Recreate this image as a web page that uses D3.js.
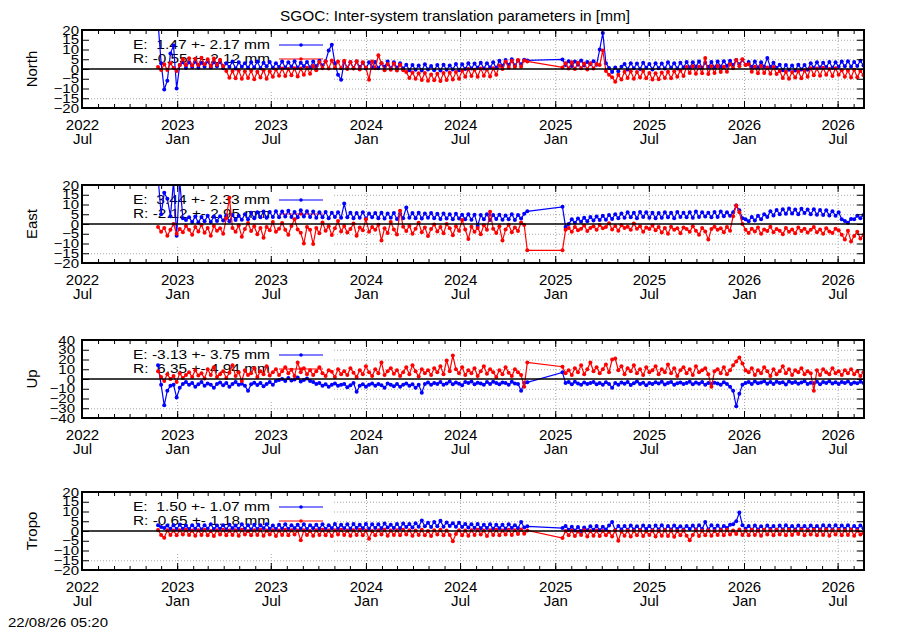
<!DOCTYPE html>
<html><head><meta charset="utf-8">
<script src="https://cdn.jsdelivr.net/npm/d3@7"></script>
<style>body{margin:0;background:#fff} svg{display:block} text{font-family:"Liberation Sans",Arial,Helvetica,sans-serif}</style>
</head><body><svg id="c" width="900" height="630"></svg>
<script>
const title = "SGOC: Inter-system translation parameters in [mm]";
const stamp = "22/08/26 05:20";
const panelNames = ["North","East","Up","Tropo"];
const yMax = [20,20,40,20];
const yStep = [5,5,10,5];
const legendE = ["E:  1.47 +- 2.17 mm","E:  3.44 +- 2.33 mm","E: -3.13 +- 3.75 mm","E:  1.50 +- 1.07 mm"];
const legendR = ["R: -0.55 +- 2.12 mm","R: -2.12 +- 2.95 mm","R:  6.35 +- 4.94 mm","R: -0.65 +- 1.18 mm"];
const xDomain = ["2022-07-01","2026-08-21"];
const segStarts = ["2022-11-25","2025-01-15"];
const segLengths = [120, 98];
const stepDays = 6;

const northE = [24,3,-10.5,-6,8,12,-10,2,3.5,0.5, 3.5,1,3.8,0.6,3.2,1.2,4,0.8,3.4,1.4, 3.6,0.4,3,1,3.8,0.2,3.4,1.2,3,0.6, 3.4,0.8,3.8,0.4,3.2,1.4,3.6,0.6,3,1, 3.8,0.8,3.4,1.2,4,0.6,3.2,1.4,3.6,0.8, 3.8,1.4,4.2,1.8,4,9.5,12.5,3,-3,-5.5, 3.6,0.6,3.4,0.4,3.8,1,3.2,0.2,3.4,0.8, 3.6,0.4,3,1.2,3.8,0.2,3.4,0.6,3,0.2, 2.2,-0.6,2,-0.4,1.8,-0.8,2.4,-0.2,1.6,-0.6, 2,-0.8,2.2,-0.4,1.8,-0.2,2.6,-0.6,2.4,0, 3,0.2,2.8,0.6,3.2,0.2,3,0.8,3.4,0.6, 4.2,1.6,4.6,2,5,1.8,4.4,2.4,4.8,4.4,
 4.9,2,4,1.6,3.8,2.2,4.4,1.8,3.6,2.4, 4,2.2,10,18.5,3,0.5,-1.5,0.8,-1.2,1.2, 2.6,-0.2,3,0.4,2.8,0,3.2,0.6,2.6,-0.2, 3,0.4,2.8,0.2,3.4,0.6,3,0.2,3.2,0.8, 3.6,0.8,3.4,1.2,3.8,0.6,3.2,1,3.6,0.8, 3.8,1.2,4,1.6,4.2,2,4.6,2.4,4.8,2.2, 3.6,1,3.8,0.8,3.4,1.2,5.6,1,3.2,0.6, 2.2,-0.6,2,-0.4,1.8,-0.8,2.2,-0.2,2,-0.4, 3,0.6,3.4,0.8,3.2,1,3.6,0.6,3.4,1.2, 3.8,1.4,4,1.2,3.6,1.6,4.2,1.8];
const northR = [1,-0.5,2.5,-0.5,3,0.5,-1,2,5,2, 5.5,1.8,5.2,2,5.8,2.4,5,1.6,5.4,2.2, 4.8,1.5,-1,-4.5,-1,-4.8,-0.6,-5,-1.2,-4.6, -0.8,-5.2,-1.4,-4.4,-0.6,-5,-1.2,-4,-0.2,-3.4, 0.2,-3.6,0,-3.2,0.4,-3.8,0.2,-3,0.6,-2.4, 1.6,-0.6,3.6,0.4,4,0.2,4.4,0.6,3.8,0.4, 4.2,0,3.6,0.2,4,-0.2,3.4,0.6,-5.5,3.8, 0.4,7,3,-0.6,2.6,-0.4,2.8,-0.8,2.2,-0.6, -1.6,-4.6,-1.8,-5,-2.2,-5.6,-2,-6,-2.8,-5.8, -2.4,-6.2,-2,-5.6,-1.8,-5.4,-1.6,-5,-0.8,-4, 0,-3.6,-0.4,-4,0.2,-3.4,-0.2,-3.8,0.4,-3, 1.8,0,3.8,0.6,4.2,1,4.6,1.2,4.4,3.9,
 0.8,3,0.2,3.4,0,3.2,0.4,2.8,-0.2,3, 0.2,2.6,2,9.5,-1,-3,-4.2,-6.5,-3,-5.4, -1.4,-4.6,-1.2,-5,-1.6,-4.4,-1,-4.8,-2,-5.4, -2.2,-5.2,-1.8,-4.6,-1.4,-4.8,-1.2,-4,-0.8,-3.6, 1,-2,1.4,-2.4,1.2,-2.2,5.6,-2.6,1.4,-2, 1.6,-1.6,1.2,-1.4,2.4,0.4,4.6,1.4,5,2, 2.4,-1.4,1.2,-2.2,1.6,-2,0.8,-2.4,1,-2.6, -1,-4.6,-1.4,-5,-1.6,-4.4,-1.2,-4.8,-0.8,-4, 0.4,-3.2,0.2,-3.4,0.6,-3,0,-3.6,0.4,-3, -0.6,-4,-0.8,-4.4,-0.4,-4.2,-1,-3.2];
const eastE = [24,5,16,13,4,22,-6,22,3,2, 3.5,1,3.8,0.8,3.6,1.4,4.2,1,3.8,1.6, 4,1.8,4.4,1.4,4.6,2,4.2,2.2,5,2.4, 5.8,3,6,3.4,6.4,3.2,6.2,3.6,6.6,3.4, 6.4,3.8,6.8,3.6,6.2,3.4,7,3.8,6.6,3.6, 6.4,3.2,6,3.4,6.2,3,5.8,3.6,6,3.2, 10.5,3.4,5.8,3,5.6,3.2,6,2.8,5.4,3.4, 5.6,3,5.8,2.8,5.4,3.2,5.6,2.6,5.2,3, 8.5,3.2,5.6,3,5.8,2.8,5.4,3.2,5.6,3, 5.2,2.6,5.4,2.8,5,2.4,5.2,2.8,4.8,2.4, 5,2.2,4.8,-1,4.6,2.4,5,2,4.6,2.6, 4.8,2.2,4.4,2.4,5,2,4.6,2.8,5.2,6.5,
 8.8,-1.5,0,2.4,0.6,2.8,1.2,3.2,1.4,3.6, 1.8,3.8,2,4.2,2.2,4.6,2.6,5,3,5.4, 3.2,6,3.4,5.8,3,6.2,3.6,6,3.2,5.8, 3,5.6,3.2,6,3.4,5.8,3,6.2,3.6,5.8, 3.4,6,3.2,6.4,3.6,6,3.8,5.8,3.4,6.2, 3.6,6.4,4,6,4.2,6,9.5,7,3,2.4, 1.4,3.6,1.8,4.2,2.4,5,3.6,6.6,4.4,7.2, 5,7.6,5.2,8,5.4,7.4,5,7.8,5.6,7.4, 5,7.6,4.8,7.2,4.6,7,4.4,6.6,4.2,6, 2.4,1.5,0.6,2.6,2.4,4.2,3,4.6];
const eastR = [-1.5,-4,-2,-6,-3,0,-5,-2.5,-4.2,-1, -3,-5.5,-1.5,-3.8,-0.5,-4.5,-2,-6,-1,-3.5, -2.2,-5,3,13.5,-2,-4,-0.8,-6.5,-2.5,0.5, -3.6,-1.2,-5.2,-2,-7,-1.5,-3.2,1,-4,-2.4, 0.5,-3,-5.5,-1,2.5,-2.8,-4.5,-10,-1.5,-3, -10.3,-2,-4.8,0.8,-3.4,-1.2,-5.6,-2.2,1.5,-3.8, -1,-4.4,-2.6,0.2,-6,-1.8,-3.2,2.4,-4,-1.6, -3,-0.4,-8.5,-2.2,-4.6,1,-2.8,-5.4,6.8,-1.4, -3.6,-1,-5,-2.4,0.6,-4.2,-1.8,-6.2,-2.6,-0.2, -3.8,-1.6,-4.8,0,-2.2,-5.8,-1.2,-3.4,2,-2.8, -7.7,-1.4,-4,-2,-5.2,-0.6,-3,6.3,-2.4,-4.6, -1.2,-8.5,-2.8,-0.4,-4.2,-1.8,-3.6,0.8,-0.5,-13.5,
 -13.5,-3,-2,-4,-1.5,-3.2,-2.4,-0.8,-3.6,-2, -1.2,-3,-0.5,-2.2,-1.6,0.4,-2.8,-1,-3.4,-0.6, -2,-1.4,-3,0.2,-2.4,-1.2,-4,-1.8,-2.6,-0.8, -3.2,-1.6,-4.4,-2,-5,-1.4,-3,-2.2,-4.8,-1.8, -2.6,-4,-1.2,-3.4,-5.5,-2,-3.8,-8,-2.6,-1.4, -3,-2.2,-4.2,-1.6,-3.4,4,9.5,6,0,-3, -4.6,-2.4,-3.8,-1.8,-5,-2.8,-3.6,-1.4,-4.2,-2.6, -3.4,-5.2,-2,-4,-2.8,-4.8,-1.8,-3.6,-2.4,-4.4, -3,-1.6,-4.2,-2.8,-5,-2.2,-3.8,-4.6,-2.4,-3.2, -5.5,-8,-3.4,-9,-6.2,-4,-7.4,-5.6];
const upE = [14,-6,-27,-12,-7,-6,-19,-9,-5,-3, -6,-4,-8,-5.5,-3,-7,-4.5,-6,-9,-5, -3.5,-6.5,-4,-8,-5,-3,-6,-4.8,-7,-12, -5.5,-3.8,-6.2,-4,-7.5,-5,-3.2,-6,-2,-1, 0,-2,1,-1.5,-0.5,1.5,-2.5,-1,0.5,-2, -3,-5,-4,-7,-5.5,-8,-6,-4.5,-7,-6, -5,-8.5,-6.5,-4,-13,-7,-5.5,-8,-6,-4.5, -7,-5,-6.5,-9,-4.5,-6,-7.5,-5,-8,-6, -4.5,-7,-5.5,-9,-6,-14,-5,-3.5,-6,-4, -5,-3,-6,-4.5,-2.5,-5.5,-3.5,-4.8,-6.5,-3, -4,-2.5,-5.5,-3.8,-4.5,-6,-3.2,-5,-2.8,-4.2, -5.5,-3.5,-4,-6,-2.8,-4.5,-5,-12,-4,-3.4,
 6.8,-4,-3,-5.5,-2.8,-4.5,-6,-3.5,-5,-4, -3,-5.5,-4.2,-6,-3.4,-5,-9,-4,-5.8,-3.6, -4.8,-3,-6.2,-4.4,-2.6,-5.2,-3.8,-6.5,-4,-5, -3.4,-4.6,-2.8,-5.6,-4,-3,-6,-4.4,-3.6,-5.2, -4,-2.8,-5.4,-3.6,-4.8,-3.2,-6,-4.2,-5,-3.8, -4.6,-6,-3.4,-5.2,-8,-12,-28,-15,-6,-4, -3.2,-5,-2.6,-4.4,-3.6,-2.4,-4.8,-3,-5.2,-2.8, -4,-3.4,-5.6,-2.6,-4.2,-3,-4.8,-3.6,-2.2,-5, -3.8,-4.4,-2.8,-5.4,-3.2,-4,-2.4,-4.6,-3.4,-5, -3,-4.2,-2.6,-5.2,-3.6,-4.4,-2.8,-4];
const upR = [8,2,-2,5,0,3,-3,6,1,4, 7,2,9,3.5,6,0.5,10,4,12,2, 5,8,1,6.5,14,3,7,-2,9,4, 6,11,2,8,5,13,3.5,7,10,4, 8,12,6,9.5,3,17,7,11,5,9, 4,8,12,6,3,9,7.5,2,10,5, 8,4,11,6.5,2,9,5,13,7,3, 10,6,17,4,8,11,5.5,9,3,7, 12,5,14,8,2.5,10,6,9,4,11, 7,13,5,19,8,24,10,6,12,4, 9,6,11,3,8,13,5.5,10,7,2, 9,5,12,6.5,3,10,7,4,-8,17,
 12.6,6,9,4,11,7,14,5,10,17, 8,12,6,10,15,7,20,21,9,13, 5,11,8,14,6,10,4,12,7,9, 13,5,10,7,15,6,11,3,9,12, 6,10,4,13,7,9,11,5,-8,8, 10,6,12,5,9,14,18,22,16,9, 7,11,4,9,6,12,8,3,10,5, 8,13,6,10,4,9,7,11,5,8, 6,-12,9,4,10,7,5,11,6,8, 4,9,6,10,5,8,3,7];
const tropoE = [3,2,1.5,2.8,1.2,3,1,3.2,1.2,2.8, 1,3,1.2,3.2,0.8,3,1.2,3.4,1,2.8, 1.2,3,0.8,3.2,1.4,2.8,1,3.4,1.2,3, 0.8,3.2,1,3,1.4,3.4,1.2,2.8,1,3.2, 1.2,3.4,1,3,1.4,3.2,1.2,3.4,1,3, 1.4,3.2,1.2,3.4,1,3,1.4,3.6,1.2,3.2, 1.4,3.4,1.2,3.6,1.6,3.2,1.4,3.6,1.2,3.4, 1.6,3.4,1.4,3.8,1.8,3.2,1.6,3.6,1.4,3.8, 2,3.6,1.8,4,2.2,5.4,2.4,4.2,2,4.6, 2.4,5.2,2.2,4.4,2.6,4,2.2,4.2,2,3.6, 1.8,3.4,1.6,3.6,1.4,3.2,1.6,3.4,1.2,3.2, 1.4,3.2,1.2,3.4,1.6,3,1.4,4.6,1.8,2.4,
 1.5,2.6,0.6,2.2,0.2,2,0,1.8,0.4,2.4, 0.6,2.6,0.4,2.2,0.8,2.8,4.6,0.4,2.6,0.8, 2.6,0.6,2.8,0.8,2.4,0.6,2.8,1,2.6,0.4, 2.8,0.8,3,0.6,2.6,0.8,2.8,1,2.4,0.8, 2.6,1,2.8,0.8,3,1,4.6,0.8,3,1, 2.8,0.8,2.6,1.6,3.2,3.4,5,9.5,3,1.2, 2.6,0.6,2.8,0.8,2.4,0.6,2.8,1,2.6,0.6, 2.8,0.8,3,1,2.6,0.8,2.8,1.2,2.6,0.8, 2.8,1,2.6,0.8,3,1.2,2.8,0.8,3,1, 2.8,1.2,3,0.8,2.6,1,2.8,1.4];
const tropoR = [0.5,-2,-3.5,0.4,-2,0.2,-2.2,0.4,-1.8,0.6, -2,0.2,-2.4,0.4,-2,0.6,-2.2,0,-2.6,0.4, -1.8,0.6,-2.2,0.2,-2,0.4,-2.4,0.6,-1.8,0, -2.2,0.4,-2,0.6,-2.4,0.2,-1.8,0.4,-2.6,0.2, -2,0.6,-2.2,0.4,-1.8,0.2,-4.8,0.4,-2,0, -2.4,0.4,-2,0.6,-2.2,0.2,-2.6,0.4,-1.8,0.6, -2,0.2,-2.4,0.4,-2,0.6,-2.2,0.2,-4,0, -2.2,0.4,-1.8,0.6,-2.4,0.2,-2,0.4,-2.2,0.6, -1.8,0.4,-2.4,0.2,-2,0.6,-2.2,0,-2.6,0.4, -1.8,0.6,-2.2,0.2,-2,-5.3,-1.6,0.4,-2.2,0.2, -2.4,0.4,-2,0.6,-1.8,0.2,-2.6,0.4,-2,0.6, -2.2,0.2,-1.8,0.6,-2,0.4,-1.6,0.8,-1.4,0.3,
 -3.6,0,-2.2,0.2,-2.6,-0.2,-2,0.4,-2.8,0, -2.4,0.2,-2.6,0,-2.2,-0.4,-2.8,0.2,-5,-0.2, -2.4,0.2,-2.8,0,-2.2,0.4,-2.6,-0.2,-2,0.2, -2.8,0,-2.4,0.4,-2.6,0.2,-3,0,-2.2,0.2, -2.4,-4.8,-2,0.4,-2.6,0.2,-2.2,0.4,-2.4,0, -2,0.4,-2.2,0.6,-1.8,0.2,-1.6,0.8,-2,0.2, -2.2,0.6,-2,0.2,-2.4,0.6,-1.8,0.4,-2.2,0.6, -1.8,0.4,-2.2,0.6,-2,0.2,-1.6,0.8,-2.2,0.4, -1.8,0.6,-2.2,0.4,-2,0.8,-2.4,0.4,-1.8,0.6, -2.2,0.4,-2,0.6,-2.4,0.2,-1.8,-1];

const seriesE = [northE, eastE, upE, tropoE];
const seriesR = [northR, eastR, upR, tropoR];

// ---------- layout ----------
const W = 900, Hh = 630;
const L = 82, R = 864, PH = 78;
const tops = [30, 185, 340, 492];
const labelRight = [79, 79, 75, 79];
const BLUE = "#0000ff", RED = "#ff0000";

const parse = d3.utcParse("%Y-%m-%d");
const dates = [];
segStarts.forEach((s, k) => {
  const d0 = parse(s);
  for (let i = 0; i < segLengths[k]; i++) dates.push(d3.utcDay.offset(d0, i * stepDays));
});

const svg = d3.select("#c");
svg.append("rect").attr("width", W).attr("height", Hh).attr("fill", "#fff");

const x = d3.scaleUtc().domain(xDomain.map(parse)).range([L, R]);
const majors = x.ticks(d3.utcMonth.every(6));
const minors = x.ticks(d3.utcMonth.every(1));

function stretch(sel, f) {
  sel.each(function () {
    const w = this.getComputedTextLength();
    d3.select(this).attr("textLength", w * f).attr("lengthAdjust", "spacingAndGlyphs");
  });
}

// title
svg.append("text").attr("x", 455).attr("y", 21).attr("text-anchor", "middle")
  .attr("font-size", 15).attr("textLength", 350).attr("lengthAdjust", "spacingAndGlyphs").text(title);

panelNames.forEach((name, p) => {
  const top = tops[p], bot = top + PH;
  const y = d3.scaleLinear().domain([-yMax[p], yMax[p]]).range([bot, top]);
  const yt = d3.range(-yMax[p], yMax[p] + 1e-9, yStep[p]);
  const g = svg.append("g");

  // grid
  g.append("g").attr("transform", `translate(${L},0)`)
    .call(d3.axisLeft(y).tickValues(yt.filter(v => v !== 0 && Math.abs(v) < yMax[p])).tickSize(-(R - L)).tickFormat(""))
    .call(s => { s.select(".domain").remove(); s.selectAll("line").attr("stroke", "#a8a8a8").attr("stroke-dasharray", "1,2"); });
  g.append("g").attr("transform", `translate(0,${bot})`)
    .call(d3.axisBottom(x).tickValues(majors.filter(d => x(d) > L + 1 && x(d) < R - 1)).tickSize(-PH).tickFormat(""))
    .call(s => { s.select(".domain").remove(); s.selectAll("line").attr("stroke", "#a8a8a8").attr("stroke-dasharray", "1,2"); });

  // opaque key box
  g.append("rect").attr("x", L + 2).attr("y", top + 2).attr("width", 332 - L - 2).attr("height", 60).attr("fill", "#fff");

  // key
  const keyRows = [[legendE[p], BLUE, 15, 19], [legendR[p], RED, 29, 33]];
  keyRows.forEach(([txt, col, ly, ty]) => {
    g.append("text").attr("x", 133).attr("y", top + ty).attr("font-size", 12.5)
      .style("white-space", "pre").attr("textLength", 137).attr("lengthAdjust", "spacingAndGlyphs").text(txt);
    g.append("line").attr("x1", 279).attr("x2", 323).attr("y1", top + ly).attr("y2", top + ly)
      .attr("stroke", col).attr("stroke-width", 1.2);
    g.append("circle").attr("cx", 301).attr("cy", top + ly).attr("r", 1.8).attr("fill", col);
  });

  // data
  const clipId = "clip" + p;
  svg.append("clipPath").attr("id", clipId).append("rect").attr("x", L).attr("y", top).attr("width", R - L).attr("height", PH);
  const dg = g.append("g").attr("clip-path", `url(#${clipId})`);
  [[seriesE[p], BLUE], [seriesR[p], RED]].forEach(([vals, col]) => {
    const pts = vals.map((v, i) => ({ d: dates[i], v })).filter(o => o.d);
    dg.append("path").datum(pts).attr("fill", "none").attr("stroke", col).attr("stroke-width", 1.2)
      .attr("d", d3.line().x(o => x(o.d)).y(o => y(o.v)));
    dg.selectAll(null).data(pts).enter().append("circle")
      .attr("cx", o => x(o.d)).attr("cy", o => y(o.v)).attr("r", 2.0).attr("fill", col);
  });

  // zero axis
  g.append("line").attr("x1", L).attr("x2", R).attr("y1", y(0)).attr("y2", y(0)).attr("stroke", "#000").attr("stroke-width", 1.5);

  // axes ticks
  const ya = g.append("g").attr("transform", `translate(${L},0)`)
    .call(d3.axisLeft(y).tickValues(yt).tickSizeInner(-7).tickSizeOuter(0).tickPadding(L - labelRight[p]).tickFormat(d3.format("d")));
  ya.select(".domain").remove();
  ya.selectAll("line").attr("stroke", "#000");
  ya.selectAll("text").attr("font-size", 12.5).attr("font-family", '"Liberation Sans",Arial,sans-serif').attr("fill", "#000");
  stretch(ya.selectAll("text"), 1.2);

  const yr = g.append("g").attr("transform", `translate(${R},0)`)
    .call(d3.axisRight(y).tickValues(yt).tickSizeInner(-7).tickSizeOuter(0).tickFormat(""));
  yr.select(".domain").remove(); yr.selectAll("line").attr("stroke", "#000");

  [[d3.axisBottom, bot], [d3.axisTop, top]].forEach(([ax, yy]) => {
    const mi = g.append("g").attr("transform", `translate(0,${yy})`)
      .call(ax(x).tickValues(minors).tickSizeInner(-4).tickSizeOuter(0).tickFormat(""));
    mi.select(".domain").remove(); mi.selectAll("line").attr("stroke", "#000");
  });
  const ma = g.append("g").attr("transform", `translate(0,${bot})`)
    .call(d3.axisBottom(x).tickValues(majors).tickSizeInner(-7).tickSizeOuter(0).tickFormat(d3.utcFormat("%Y")));
  ma.select(".domain").remove(); ma.selectAll("line").attr("stroke", "#000");
  ma.selectAll("text").attr("dy", null).attr("y", null).attr("font-size", 15)
    .attr("font-family", '"Liberation Sans",Arial,sans-serif').attr("fill", "#000")
    .each(function (d) {
      const t = d3.select(this).text(null);
      t.append("tspan").attr("x", 0).attr("y", 22).text(d3.utcFormat("%Y")(d));
      t.append("tspan").attr("x", 0).attr("y", 36).text(d3.utcFormat("%b")(d));
    });
  const mt = g.append("g").attr("transform", `translate(0,${top})`)
    .call(d3.axisTop(x).tickValues(majors).tickSizeInner(-7).tickSizeOuter(0).tickFormat(""));
  mt.select(".domain").remove(); mt.selectAll("line").attr("stroke", "#000");

  // border
  g.append("rect").attr("x", L).attr("y", top).attr("width", R - L).attr("height", PH)
    .attr("fill", "none").attr("stroke", "#000").attr("stroke-width", 2);

  // y label
  g.append("text").attr("transform", `translate(32,${top + PH / 2}) rotate(-90)`)
    .attr("text-anchor", "middle").attr("dy", "0.35em").attr("font-size", 15).text(name);
});

svg.append("text").attr("x", 8).attr("y", 627).attr("font-size", 12)
  .attr("textLength", 100).attr("lengthAdjust", "spacingAndGlyphs").text(stamp);
</script></body></html>
